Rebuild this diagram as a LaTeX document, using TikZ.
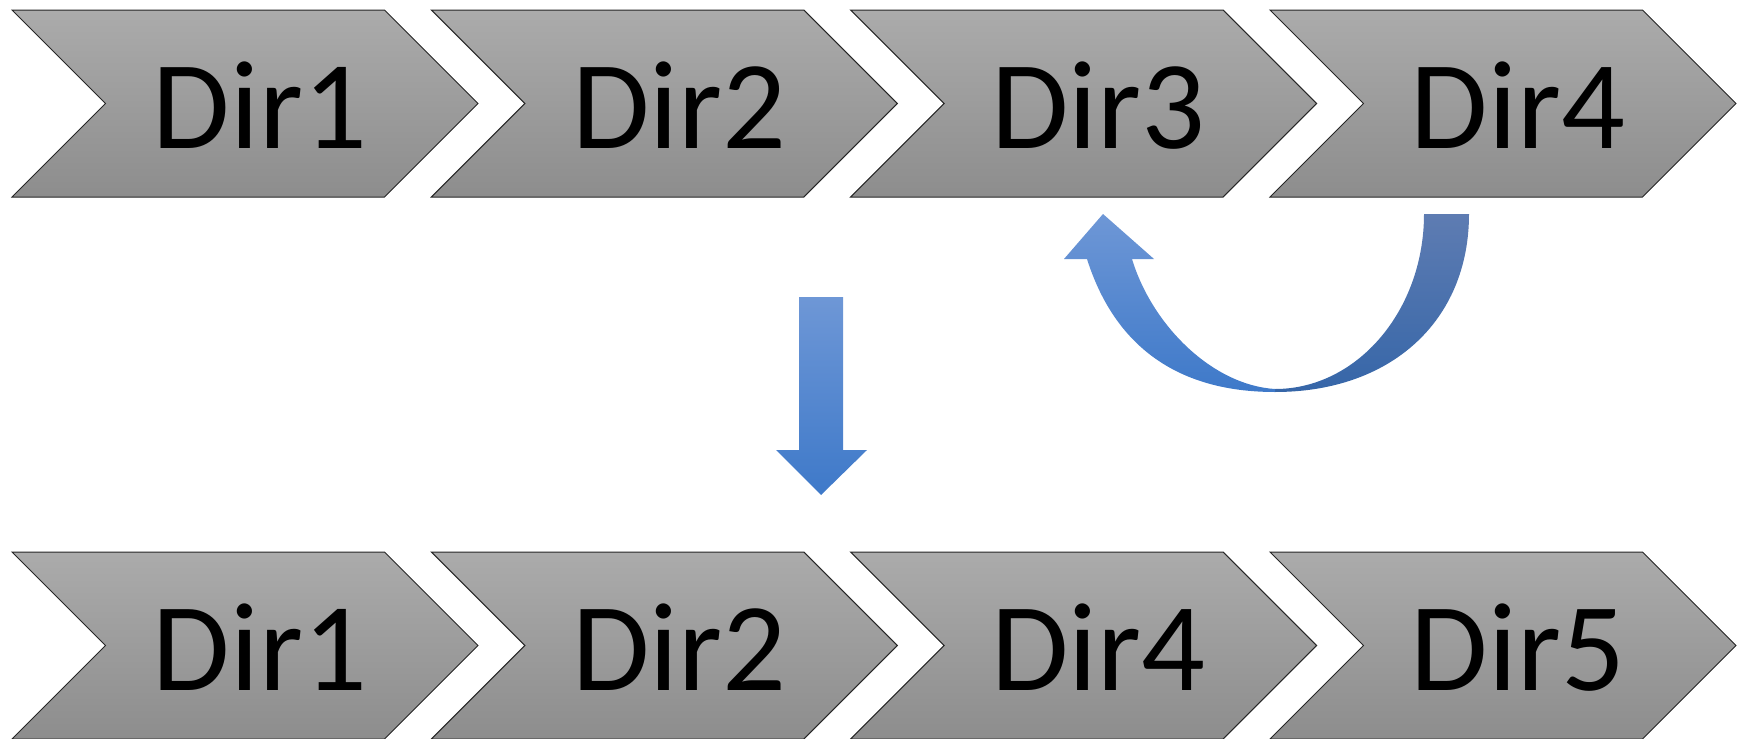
\documentclass[tikz,border=0pt]{standalone}
\usepackage{fontspec}
\usepackage{tikz}
\newfontfamily\dirfont{Carlito}
\usetikzlibrary{shapes,positioning}

\definecolor{chevtop}{RGB}{171,171,171}
\definecolor{chevbot}{RGB}{141,141,141}
\definecolor{arrowtop}{RGB}{110,151,214}
\definecolor{arrowbot}{RGB}{62,121,201}
\definecolor{backtop}{RGB}{94,124,178}
\definecolor{backbot}{RGB}{54,102,168}

\begin{document}
\begin{tikzpicture}[x=0.5pt, y=-0.5pt,
    chevron/.style={signal, signal from=west, signal to=east, draw=black!85, line width=0.5pt,
        top color=chevtop, bottom color=chevbot, minimum width=233pt, minimum height=93.5pt,
        inner sep=0pt, font=\dirfont\fontsize{63}{63}\selectfont, text height=44.6pt, text depth=0pt},
    blockarrow/.style={top color=arrowtop, bottom color=arrowbot, draw=none},
    backarrow/.style={top color=backtop, bottom color=backbot, draw=none}]

    \useasboundingbox (0,0) rectangle (1741,739);

    % Nodes
    \node [chevron] (old1) at (245,103.5) {\hspace*{15pt}Dir1};
    \node [chevron] (old2) at (664.3,103.5) {\hspace*{15pt}Dir2};
    \node [chevron] (old3) at (1083.6,103.5) {\hspace*{15pt}Dir3};
    \node [chevron] (old4) at (1503,103.5) {\hspace*{15pt}Dir4};

    \node [chevron] (new1) at (245,645.5) {\hspace*{15pt}Dir1};
    \node [chevron] (new2) at (664.3,645.5) {\hspace*{15pt}Dir2};
    \node [chevron] (new3) at (1083.6,645.5) {\hspace*{15pt}Dir4};
    \node [chevron] (new4) at (1503,645.5) {\hspace*{15pt}Dir5};

    % Arrows
    \path [blockarrow] (799,297) -- (843,297) -- (843,450) -- (867,450) -- (821,495)
        -- (776,450) -- (799,450) -- cycle;

    % back of the curved arrow, then its front with the head
    \path [backarrow] (1469,214) .. controls (1469,321) and (1391,392) .. (1275,392)
        -- (1275,389) .. controls (1357,389) and (1424,310.7) .. (1424,214) -- cycle;
    \path [blockarrow] (1275,392) .. controls (1172,392) and (1113,341) .. (1087,259)
        -- (1064,259) -- (1103,214) -- (1154,259) -- (1132,259)
        .. controls (1152,325) and (1212,385) .. (1275,389) -- cycle;

\end{tikzpicture}
\end{document}
